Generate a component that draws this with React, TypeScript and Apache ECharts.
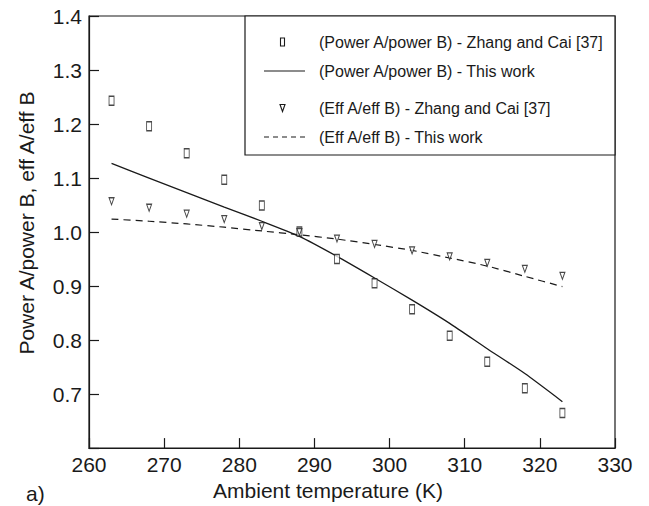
import React, { useEffect, useRef } from "react";
import * as echarts from "echarts";

// Ambient temperature (K)
const temps = [263, 268, 273, 278, 283, 288, 293, 298, 303, 308, 313, 318, 323];

// Power A / power B, reference data (Zhang and Cai [37])
const powerRatioZhang = [1.243, 1.196, 1.146, 1.097, 1.049, 1.001, 0.950, 0.905, 0.857, 0.808, 0.760, 0.711, 0.665];
// Power A / power B, model
const powerRatioModel = [1.127, 1.100, 1.073, 1.046, 1.020, 0.992, 0.955, 0.915, 0.874, 0.831, 0.784, 0.738, 0.686];
// Eff A / eff B, reference data (Zhang and Cai [37])
const effRatioZhang = [1.057, 1.045, 1.034, 1.024, 1.011, 1.000, 0.988, 0.978, 0.966, 0.955, 0.943, 0.932, 0.919];
// Eff A / eff B, model
const effRatioModel = [1.024, 1.020, 1.015, 1.009, 1.002, 0.995, 0.987, 0.977, 0.966, 0.952, 0.937, 0.918, 0.899];

const seriesNames = [
  "(Power A/power B) - Zhang and Cai [37]",
  "(Power A/power B) - This work",
  "(Eff A/eff B) - Zhang and Cai [37]",
  "(Eff A/eff B) - This work",
];

const FONT = "'Liberation Sans', Arial, Helvetica, sans-serif";
const INK = "#1a1a1a";

const pairs = (ys: number[]) => temps.map((t, i) => [t, ys[i]]);

export default function App() {
  const ref = useRef<HTMLDivElement>(null);

  useEffect(() => {
    if (!ref.current) return;
    const chart = echarts.init(ref.current, undefined, { renderer: "svg" });

    // legend key rows: [y centre, kind]
    const legendRows: [number, string][] = [
      [42, "rect"],
      [71, "solid"],
      [108, "tri"],
      [137, "dash"],
    ];
    const legendGraphics: any[] = [
      {
        type: "rect",
        shape: { x: 245, y: 16, width: 370, height: 139 },
        style: { fill: "#fff", stroke: INK, lineWidth: 1.2 },
        z: 10,
      },
    ];
    legendRows.forEach(([y, kind], i) => {
      if (kind === "rect") {
        legendGraphics.push({
          type: "rect",
          shape: { x: 280.5, y: y - 4, width: 4, height: 8 },
          style: { fill: "#fff", stroke: INK, lineWidth: 1.1 },
          z: 11,
        });
      } else if (kind === "tri") {
        legendGraphics.push({
          type: "polygon",
          shape: { points: [[280, y - 3.5], [285, y - 3.5], [282.5, y + 3.5]] },
          style: { fill: "#fff", stroke: INK, lineWidth: 1.1 },
          z: 11,
        });
      } else {
        legendGraphics.push({
          type: "line",
          shape: { x1: 264, y1: y, x2: 305, y2: y },
          style: { stroke: INK, lineWidth: 1.2, lineDash: kind === "dash" ? [5, 4] : null },
          z: 11,
        });
      }
      legendGraphics.push({
        type: "text",
        x: 319,
        y,
        style: {
          text: seriesNames[i],
          fontFamily: FONT,
          fontSize: 16,
          fill: INK,
          verticalAlign: "middle",
        },
        z: 11,
      });
    });

    chart.setOption({
      animation: false,
      backgroundColor: "#fff",
      grid: {
        left: 89,
        right: 34,
        top: 16,
        bottom: 54,
        show: true,
        borderColor: INK,
        borderWidth: 1.2,
        containLabel: false,
      },
      xAxis: {
        type: "value",
        min: 260,
        max: 330,
        interval: 10,
        name: "Ambient temperature (K)",
        nameLocation: "middle",
        nameGap: 28,
        nameTextStyle: { fontFamily: FONT, fontSize: 21, color: INK, padding: [0, 48, 0, 0] },
        axisLine: { lineStyle: { color: INK, width: 1.2 } },
        axisTick: { inside: true, length: 10, lineStyle: { color: INK, width: 1.2 } },
        axisLabel: { fontFamily: FONT, fontSize: 21, color: INK, margin: 6 },
        splitLine: { show: false },
      },
      yAxis: {
        type: "value",
        min: 0.6,
        max: 1.4,
        interval: 0.1,
        name: "Power A/power B, eff A/eff B",
        nameLocation: "middle",
        nameGap: 52,
        nameTextStyle: { fontFamily: FONT, fontSize: 21, color: INK, padding: [0, 0, 0, 18] },
        axisLine: { lineStyle: { color: INK, width: 1.2 } },
        axisTick: { inside: true, length: 10, lineStyle: { color: INK, width: 1.2 } },
        axisLabel: {
          fontFamily: FONT,
          fontSize: 21,
          color: INK,
          margin: 7,
          formatter: (v: number) => (v < 0.65 ? "" : v.toFixed(1)),
        },
        splitLine: { show: false },
      },
      series: [
        {
          name: seriesNames[0],
          type: "scatter",
          data: pairs(powerRatioZhang),
          symbol: "rect",
          symbolSize: [5, 9],
          itemStyle: { color: "#fff", borderColor: INK, borderWidth: 1.1 },
          z: 3,
        },
        {
          name: seriesNames[1],
          type: "line",
          data: pairs(powerRatioModel),
          showSymbol: false,
          symbol: "none",
          smooth: 0.2,
          lineStyle: { color: INK, width: 1.3 },
          z: 2,
        },
        {
          name: seriesNames[2],
          type: "scatter",
          data: pairs(effRatioZhang),
          symbol: "triangle",
          symbolRotate: 180,
          symbolSize: [5, 7],
          itemStyle: { color: "#fff", borderColor: INK, borderWidth: 1.1 },
          z: 3,
        },
        {
          name: seriesNames[3],
          type: "line",
          data: pairs(effRatioModel),
          showSymbol: false,
          symbol: "none",
          smooth: 0.2,
          lineStyle: { color: INK, width: 1.2, type: [7, 5] },
          z: 2,
        },
      ],
      graphic: [
        ...legendGraphics,
        {
          type: "text",
          x: 26,
          y: 493,
          style: {
            text: "a)",
            fontFamily: FONT,
            fontSize: 21,
            fill: INK,
            verticalAlign: "middle",
          },
        },
      ],
    });

    return () => chart.dispose();
  }, []);

  return (
    <div
      ref={ref}
      style={{ position: "fixed", left: 0, top: 0, width: 649, height: 506, background: "#fff" }}
    />
  );
}
